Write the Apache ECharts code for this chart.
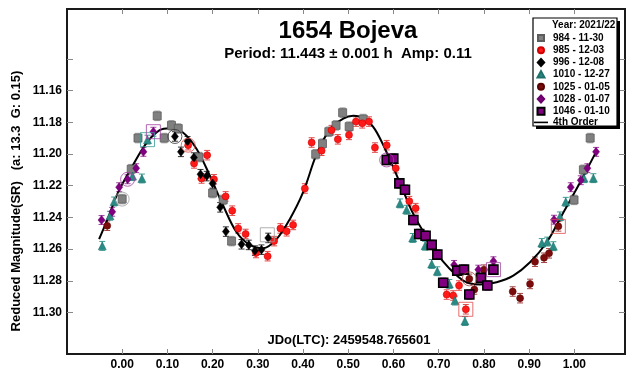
<!DOCTYPE html>
<html><head><meta charset="utf-8">
<script src="https://cdn.jsdelivr.net/npm/echarts@6/dist/echarts.min.js"></script>
<style>html,body{margin:0;padding:0;background:#fff}#c{width:629px;height:371px}</style>
</head><body><div id="c"></div>
<script>
// ---------- data (phase, reduced magnitude) ----------
const s984 = [[0.000,11.2285],[0.020,11.2096],[0.035,11.190],[0.0775,11.176],[0.093,11.190],[0.109,11.182],[0.124,11.184],[0.170,11.202],[0.200,11.2247],[0.2235,11.229],[0.242,11.255],[0.428,11.2002],[0.443,11.1935],[0.457,11.186],[0.473,11.182],[0.4876,11.174],[0.502,11.1828],[0.533,11.178],[0.9993,11.229],[1.020,11.210],[1.035,11.190]];
const s985 = [[0.146,11.1945],[0.159,11.206],[0.1756,11.2155],[0.188,11.2008],[0.203,11.216],[0.2288,11.2268],[0.2434,11.2358],[0.2566,11.247],[0.273,11.2505],[0.296,11.2625],[0.3217,11.2645],[0.336,11.255],[0.350,11.247],[0.3637,11.2488],[0.378,11.2448],[0.404,11.2218],[0.419,11.1928],[0.441,11.198],[0.463,11.185],[0.477,11.1908],[0.5016,11.188],[0.517,11.1796],[0.531,11.1807],[0.546,11.1796],[0.559,11.196],[0.585,11.1945],[0.605,11.209],[0.635,11.2298],[0.649,11.2342],[0.7177,11.2887],[0.732,11.2893],[0.745,11.283],[0.760,11.298]];
const s996 = [[0.1166,11.189],[0.130,11.1987],[0.1446,11.192],[0.1586,11.2023],[0.1733,11.2128],[0.187,11.214],[0.200,11.2186],[0.2168,11.2337],[0.2294,11.249],[0.264,11.257],[0.280,11.2574],[0.2936,11.261],[0.308,11.2604],[0.323,11.253]];
const s1010 = [[-0.044,11.258],[-0.027,11.239],[-0.0177,11.230],[0.023,11.214],[0.0436,11.2155],[0.056,11.191],[0.6144,11.2312],[0.629,11.2352],[0.6425,11.253],[0.670,11.2579],[0.6845,11.2694],[0.697,11.274],[0.7235,11.282],[0.736,11.2925],[0.758,11.3054],[0.928,11.2562],[0.940,11.2553],[0.9535,11.2582],[0.968,11.2394],[0.981,11.2302],[1.0215,11.2153],[1.042,11.2153]];
const s1025 = [[-0.033,11.2453],[0.7677,11.2788],[0.7788,11.2855],[0.800,11.273],[0.8637,11.2868],[0.880,11.291],[0.902,11.282],[0.913,11.268],[0.933,11.2655],[0.944,11.2627],[0.9646,11.2457]];
const s1028 = [[-0.0456,11.2417],[-0.022,11.2365],[-0.0066,11.221],[0.012,11.216],[0.031,11.209],[0.047,11.1987],[0.069,11.186],[0.734,11.270],[0.7876,11.273],[0.821,11.2677],[0.955,11.2415],[0.992,11.221],[1.0142,11.2166],[1.0288,11.209],[1.048,11.1987]];
const s1046 = [[0.585,11.2038],[0.5996,11.203],[0.613,11.2186],[0.6254,11.2226],[0.644,11.2417],[0.657,11.2505],[0.671,11.2516],[0.6845,11.2574],[0.697,11.2635],[0.710,11.2813],[0.741,11.2736],[0.756,11.273],[0.7677,11.2887],[0.7936,11.2782],[0.8076,11.283],[0.821,11.273]];
const sessionErr = [0.0030, 0.0030, 0.0030, 0.0028, 0.0030, 0.0028, 0.0030];
// 4th order Fourier fit
const fit = [[-0.051,11.2537],[-0.030,11.2395],[-0.009,11.2243],[0.024,11.207],[0.054,11.193],[0.083,11.185],[0.1055,11.1838],[0.135,11.1866],[0.165,11.197],[0.194,11.2138],[0.2235,11.2327],[0.253,11.2494],[0.2825,11.2574],[0.312,11.2595],[0.3416,11.2537],[0.371,11.241],[0.400,11.2243],[0.430,11.2002],[0.4595,11.1845],[0.489,11.1777],[0.511,11.176],[0.537,11.178],[0.559,11.1845],[0.585,11.1991],[0.614,11.218],[0.644,11.238],[0.676,11.2535],[0.710,11.268],[0.7544,11.2799],[0.791,11.2824],[0.828,11.2809],[0.865,11.2767],[0.902,11.2683],[0.939,11.2557],[0.9757,11.2369],[1.0126,11.218],[1.048,11.1987]];
// open highlight markers [phase, mag, session index, shape]
const marks = [[0.000,11.2285,0,'circle'],[0.012,11.216,5,'circle'],[0.056,11.191,3,'rect'],[0.069,11.186,5,'rect'],[0.1166,11.189,2,'circle'],[0.146,11.1945,1,'circle'],[0.321,11.251,0,'rect'],[0.585,11.2038,5,'circle'],[0.7677,11.2788,4,'circle'],[0.760,11.298,1,'rect'],[0.821,11.273,5,'rect'],[0.9646,11.2457,1,'rect']];
const xTicks = [0,0.1,0.2,0.3,0.4,0.5,0.6,0.7,0.8,0.9,1.0];
const yTicks = [11.14,11.16,11.18,11.20,11.22,11.24,11.26,11.28,11.30];
const yLabels = [11.16,11.18,11.20,11.22,11.24,11.26,11.28,11.30];
const names = ['984 - 11-30','985 - 12-03','996 - 12-08','1010 - 12-27','1025 - 01-05','1028 - 01-07','1046 - 01-10'];
const sessions = [s984,s985,s996,s1010,s1025,s1028,s1046];

// ---------- styles ----------
const FONT = '"Liberation Sans", Arial, sans-serif';
const fills   = ['#808080','#ff1a1a','#000000','#2a8a84','#7c0c0c','#800080','#800080'];
const borders = ['#5c5c5c','#d00000','#000000','#1f6f6a','#5a0000','#6a006a','#000000'];
const bw      = [0.8,0.6,0.5,0.5,0.5,0.5,1.6];
const errCol  = ['#9c9c9c','#e04a4a','#333333','#3a9c96','#a44444','#a040a0','#9a409a'];
const syms    = ['rect','circle','diamond','triangle','circle','diamond','rect'];
const sizes   = [8,7,[7,9],8,7,[7,9],9];
const icons = [
  'path://M0,0M14,10M4,2h6v6h-6z',
  'path://M0,0M14,10M7,2a3,3 0 1,0 0.001,0z',
  'path://M0,0M14,10M7,1.5l3.2,3.5l-3.2,3.5l-3.2,-3.5z',
  'path://M0,0M14,10M7,1.5l3.5,6.5h-7z',
  'path://M0,0M14,10M7,2a3,3 0 1,0 0.001,0z',
  'path://M0,0M14,10M7,1.5l3.2,3.5l-3.2,3.5l-3.2,-3.5z',
  'path://M0,0M14,10M3.5,1.5h7v7h-7z',
  'path://M0,0M14,10M0,4.2h14v1.6h-14z'
];

function errSeries(data, err, color) {
  return {
    type: 'custom', silent: true, z: 2,
    data: data.map(d => [d[0], d[1] - err, d[1] + err]),
    encode: { x: 0, y: [1, 2] },
    renderItem(params, api) {
      const x = api.value(0);
      const a = api.coord([x, api.value(1)]);
      const b = api.coord([x, api.value(2)]);
      const hw = 3;
      const st = { stroke: color, lineWidth: 1 };
      return { type: 'group', children: [
        { type: 'line', shape: { x1: a[0], y1: a[1], x2: b[0], y2: b[1] }, style: st },
        { type: 'line', shape: { x1: a[0]-hw, y1: a[1], x2: a[0]+hw, y2: a[1] }, style: st },
        { type: 'line', shape: { x1: b[0]-hw, y1: b[1], x2: b[0]+hw, y2: b[1] }, style: st }
      ]};
    }
  };
}

const series = [];
sessions.forEach((d, i) => series.push(errSeries(d, sessionErr[i], errCol[i])));
series.push({
  type: 'line', name: '4th Order', data: fit, smooth: 0.35, showSymbol: false, symbol: 'none',
  color: '#000', lineStyle: { color: '#000', width: 2 }, z: 3, silent: true
});
sessions.forEach((d, i) => series.push({
  type: 'scatter', name: names[i], data: d, symbol: syms[i], symbolSize: sizes[i], z: 4,
  itemStyle: { color: fills[i], borderColor: borders[i], borderWidth: bw[i], opacity: 1 }
}));
series.push({
  type: 'scatter', silent: true, z: 5,
  data: marks.map(m => ({ value: [m[0], m[1]], symbol: m[3],
    itemStyle: { color: 'rgba(0,0,0,0)', borderColor: errCol[m[2]], borderWidth: 1 } })),
  symbolSize: 14
});

const chart = echarts.init(document.getElementById('c'), null, { renderer: 'canvas' });
const axisX = (pos, labels) => ({
  type: 'value', position: pos, min: -0.122, max: 1.112,
  axisLine: { show: false, onZero: false }, splitLine: { show: false },
  axisTick: { show: true, inside: true, length: 5, customValues: xTicks, lineStyle: { color: '#888', width: 1 } },
  axisLabel: { show: labels, customValues: xTicks, formatter: v => v.toFixed(2), margin: 5,
    color: '#000', fontFamily: FONT, fontWeight: 'bold', fontSize: 12 }
});
const axisY = (pos, labels) => ({
  type: 'value', position: pos, inverse: true, min: 11.1086, max: 11.3262,
  axisLine: { show: false, onZero: false }, splitLine: { show: false },
  axisTick: { show: true, inside: true, length: 6, customValues: yTicks, lineStyle: { color: '#888', width: 1 } },
  axisLabel: { show: labels, customValues: yLabels, formatter: v => v.toFixed(2), margin: 5,
    color: '#000', fontFamily: FONT, fontWeight: 'bold', fontSize: 12 }
});

chart.setOption({
  animation: false,
  backgroundColor: '#fff',
  grid: { left: 67, right: 4, top: 9, bottom: 15, show: true, borderColor: '#1a1a1a', borderWidth: 2, backgroundColor: 'transparent' },
  xAxis: [axisX('bottom', true), axisX('top', false)],
  yAxis: [axisY('left', true), axisY('right', false)],
  legend: {
    orient: 'vertical', left: 533, top: 32, padding: 0, itemGap: 0.2,
    itemWidth: 14, itemHeight: 10, z: 11, selectedMode: false,
    textStyle: { fontFamily: FONT, fontWeight: 'bold', fontSize: 10, color: '#000', lineHeight: 10 },
    data: names.concat(['4th Order']).map((n, i) => ({ name: n, icon: icons[i] }))
  },
  graphic: [
    { type: 'rect', z: 9, shape: { x: 536, y: 21, width: 84, height: 108 }, style: { fill: '#000' } },
    { type: 'rect', z: 10, shape: { x: 533, y: 18, width: 84, height: 108 },
      style: { fill: '#fff', stroke: '#000', lineWidth: 1.2 } },
    { type: 'text', z: 12, x: 552, y: 25.5, style: { text: 'Year: 2021/22', font: 'bold 10px ' + FONT, fill: '#000', textVerticalAlign: 'middle' } },
    { type: 'text', z: 12, x: 348, y: 31, style: { text: '1654 Bojeva', font: 'bold 24px ' + FONT, fill: '#000', textAlign: 'center', textVerticalAlign: 'middle' } },
    { type: 'text', z: 12, x: 348, y: 54, style: { text: 'Period: 11.443 \u00b1 0.001 h  Amp: 0.11', font: 'bold 15px ' + FONT, fill: '#000', textAlign: 'center', textVerticalAlign: 'middle' } },
    { type: 'text', z: 12, x: 349, y: 340, style: { text: 'JDo(LTC): 2459548.765601', font: 'bold 13px ' + FONT, fill: '#000', textAlign: 'center', textVerticalAlign: 'middle' } },
    { type: 'text', z: 12, x: 16, y: 201, rotation: Math.PI / 2, style: { text: 'Reduced Magnitude(SR)   (a: 13.3  G: 0.15)', font: 'bold 13px ' + FONT, fill: '#000', textAlign: 'center', textVerticalAlign: 'middle' } }
  ],
  series: series
});
</script></body></html>
